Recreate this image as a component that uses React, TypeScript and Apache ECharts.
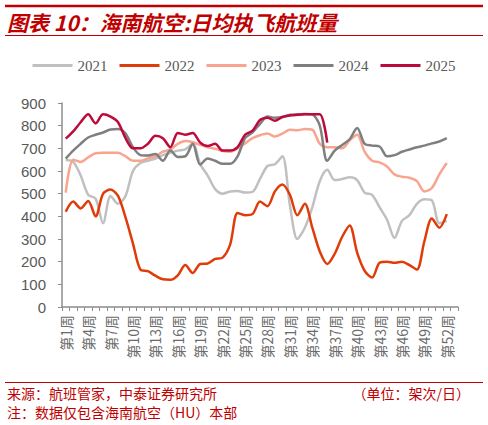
import { useEffect, useRef } from 'react'
import * as echarts from 'echarts'

const weeks = Array.from({ length: 53 }, (_, i) => `第${i + 1}周`)

const s2021 = [648, 640, 580, 495, 478, 370, 490, 455, 490, 600, 635, 645, 655, 670, 680, 690, 695, 720, 630, 580, 520, 500, 510, 512, 505, 508, 565, 622, 630, 665, 450, 300, 350, 440, 555, 605, 560, 565, 572, 560, 505, 495, 440, 385, 305, 380, 405, 455, 475, 470, 370, 380]
const s2022 = [420, 465, 435, 468, 400, 500, 518, 490, 395, 280, 165, 158, 138, 122, 120, 140, 185, 150, 190, 192, 212, 218, 275, 415, 405, 410, 465, 445, 510, 540, 495, 405, 455, 350, 245, 190, 235, 310, 360, 240, 160, 130, 195, 200, 195, 200, 185, 165, 290, 390, 350, 410]
const s2023 = [505, 650, 640, 660, 678, 680, 680, 680, 665, 645, 645, 655, 665, 685, 695, 720, 732, 727, 715, 705, 698, 688, 685, 700, 722, 745, 758, 765, 752, 765, 782, 780, 785, 782, 720, 705, 705, 700, 735, 760, 685, 645, 638, 620, 585, 575, 570, 555, 510, 525, 585, 635]
const s2024 = [655, 690, 720, 748, 760, 770, 783, 785, 765, 705, 670, 668, 675, 645, 690, 662, 665, 720, 628, 655, 645, 632, 632, 665, 745, 770, 808, 840, 835, 838, 848, 850, 852, 850, 800, 645, 690, 715, 740, 790, 720, 712, 708, 665, 670, 685, 695, 705, 712, 722, 730, 745]
const s2025 = [743, 775, 815, 850, 810, 850, 840, 815, 745, 700, 700, 720, 755, 745, 705, 768, 760, 768, 725, 710, 720, 690, 690, 705, 760, 778, 825, 835, 822, 838, 845, 848, 850, 850, 850, 725]

const seriesNames = ['2021', '2022', '2023', '2024', '2025']
const seriesData = [s2021, s2022, s2023, s2024, s2025]
const colors = ['#c0c0c0', '#e03c0a', '#f8a48e', '#7f7f7f', '#be0a3a']

const RED = '#c00000'

export default function App() {
  const chartRef = useRef<HTMLDivElement>(null)

  useEffect(() => {
    if (!chartRef.current) return
    const chart = echarts.init(chartRef.current, null, { renderer: 'svg' })

    const option: any = {
      animation: false,
      color: colors,
      legend: {
        top: 53,
        left: 'center',
        icon: 'rect',
        itemWidth: 40,
        itemHeight: 3,
        itemGap: 12,
        data: seriesNames,
        textStyle: { fontFamily: 'Liberation Serif', fontSize: 15, color: '#595959' },
      },
      grid: { left: 62, right: 30, top: 103, bottom: 118 },
      xAxis: {
        type: 'category',
        data: weeks,
        boundaryGap: true,
        axisLine: { lineStyle: { color: '#8c8c8c', width: 1.5 } },
        axisTick: { show: true, interval: 0, length: 4, lineStyle: { color: '#8c8c8c' } },
        axisLabel: {
          interval: 2,
          rotate: 90,
          margin: 8,
          fontSize: 14,
          color: '#6b6b6b',
          fontFamily: 'Noto Sans CJK SC',
        },
      },
      yAxis: {
        type: 'value',
        min: 0,
        max: 900,
        interval: 100,
        axisLine: { show: true, lineStyle: { color: '#8c8c8c', width: 1.5 } },
        axisTick: { show: true, length: 4, lineStyle: { color: '#8c8c8c' } },
        splitLine: { show: false },
        axisLabel: { fontSize: 15, color: '#595959', margin: 16, fontFamily: 'Liberation Sans' },
      },
      series: seriesNames.map((name, i) => ({
        name,
        type: 'line',
        data: seriesData[i],
        smooth: 0.3,
        symbol: 'none',
        lineStyle: { width: 2.5, color: colors[i] },
        z: i + 1,
      })),
      graphic: [
        { type: 'line', shape: { x1: 5, y1: 6, x2: 483, y2: 6 }, style: { stroke: RED, lineWidth: 2.5 } },
        { type: 'line', shape: { x1: 5, y1: 35.5, x2: 483, y2: 35.5 }, style: { stroke: RED, lineWidth: 1 } },
        {
          type: 'text',
          left: 7,
          top: 11,
          style: {
            text: '图表 10：海南航空:日均执飞航班量',
            fill: RED,
            font: 'italic bold 21px "Noto Sans CJK SC"',
          },
        },
        { type: 'line', shape: { x1: 5, y1: 382.5, x2: 483, y2: 382.5 }, style: { stroke: RED, lineWidth: 1 } },
        {
          type: 'text',
          left: 7,
          top: 386,
          style: { text: '来源：航班管家，中泰证券研究所', fill: RED, font: '14px "Noto Sans CJK SC"' },
        },
        {
          type: 'text',
          right: 18,
          top: 386,
          style: { text: '（单位：架次/日）', fill: RED, font: '14px "Noto Sans CJK SC"' },
        },
        {
          type: 'text',
          left: 7,
          top: 405,
          style: { text: '注：数据仅包含海南航空（HU）本部', fill: RED, font: '14px "Noto Sans CJK SC"' },
        },
      ],
    }

    chart.setOption(option)
    return () => {
      chart.dispose()
    }
  }, [])

  return (
    <div
      ref={chartRef}
      style={{ position: 'fixed', left: 0, top: 0, width: '488px', height: '425px', background: '#fff' }}
    />
  )
}
